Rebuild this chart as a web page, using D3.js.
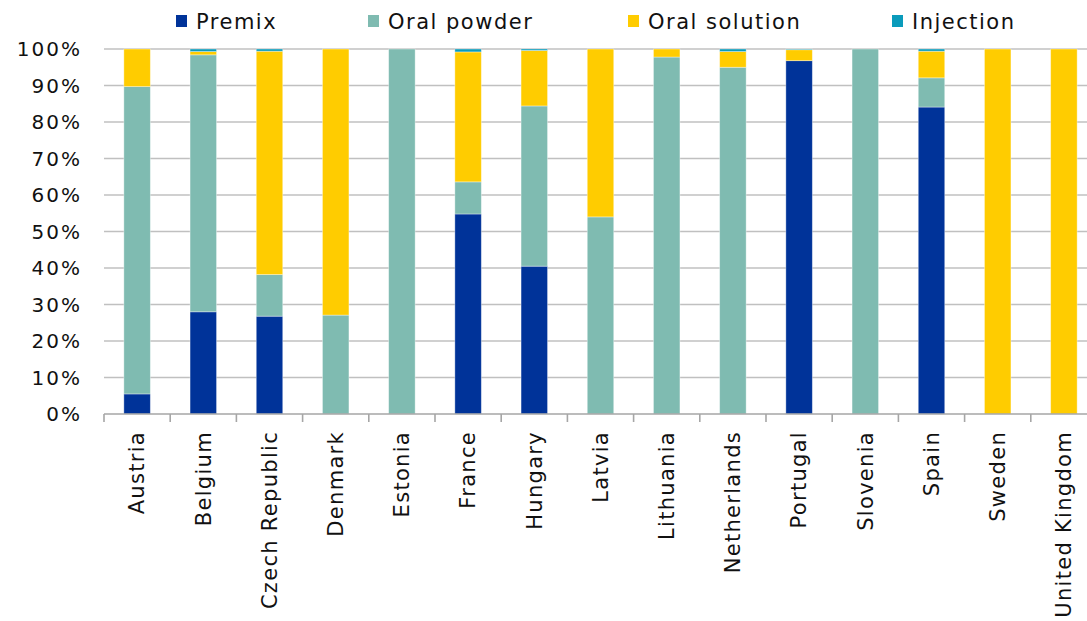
<!DOCTYPE html>
<html>
<head>
<meta charset="utf-8">
<script src="https://cdn.jsdelivr.net/npm/d3@7"></script>
<style>
  html, body { margin: 0; padding: 0; background: #fff; }
  svg { display: block; font-family: "DejaVu Sans", Verdana, sans-serif; }
</style>
</head>
<body>
<svg id="chart" width="1087" height="621"></svg>
<script>
// Share of each pharmaceutical form per country (% of total)
const countries = ["Austria", "Belgium", "Czech Republic", "Denmark", "Estonia", "France", "Hungary",
  "Latvia", "Lithuania", "Netherlands", "Portugal", "Slovenia", "Spain", "Sweden", "United Kingdom"];
const premix      = [5.5, 28.0, 26.8, 0, 0, 54.8, 40.5, 0, 0, 0, 96.8, 0, 84.1, 0, 0];
const oralPowder  = [84.2, 70.4, 11.4, 27.1, 100, 8.8, 43.9, 54.0, 97.8, 95.0, 0, 100, 8.0, 0, 0];
const oralSolution = [10.3, 0.9, 61.2, 72.9, 0, 35.6, 15.2, 46.0, 2.2, 4.3, 3.0, 0, 7.3, 100, 100];
const injection   = [0, 0.7, 0.6, 0, 0, 0.8, 0.4, 0, 0, 0.7, 0.2, 0, 0.6, 0, 0];
const seriesNames = ["Premix", "Oral powder", "Oral solution", "Injection"];
const seriesColors = ["#003399", "#7FBBB1", "#FFCC00", "#0A9BBB"];
const yTicks = [0, 10, 20, 30, 40, 50, 60, 70, 80, 90, 100];

const svg = d3.select("#chart");
const plotLeft = 104, plotRight = 1097, plotTop = 49, plotBottom = 414;

const x = d3.scaleBand().domain(countries).range([plotLeft, plotRight]).paddingInner(0.6).paddingOuter(0.3);
const xb = d3.scaleBand().domain(countries).range([plotLeft, plotRight]);
const y = d3.scaleLinear().domain([0, 100]).range([plotBottom, plotTop]);

// gridlines
svg.append("g").selectAll("line").data(yTicks.filter(d => d > 0)).join("line")
  .attr("x1", plotLeft).attr("x2", plotRight)
  .attr("y1", d => y(d)).attr("y2", d => y(d))
  .attr("stroke", "#C0C0C0").attr("stroke-width", 1.6);

// y tick labels (trailing letter-spacing compensated in x)
const tickSpacing = 2;
svg.append("g").selectAll("text").data(yTicks).join("text")
  .attr("x", 80 + tickSpacing).attr("y", d => y(d))
  .attr("text-anchor", "end").attr("dy", "0.36em")
  .attr("font-size", 20).attr("letter-spacing", tickSpacing).attr("fill", "#111")
  .text(d => d + "%");

// stacked bars
const rows = countries.map((c, i) => ({
  country: c, Premix: premix[i], "Oral powder": oralPowder[i],
  "Oral solution": oralSolution[i], Injection: injection[i]
}));
const stack = d3.stack().keys(seriesNames)(rows);
svg.append("g").selectAll("g").data(stack).join("g")
  .attr("fill", (d, i) => seriesColors[i])
  .selectAll("rect").data(d => d.filter(s => s[1] - s[0] > 0)).join("rect")
  .attr("x", d => x(d.data.country))
  .attr("width", x.bandwidth())
  .attr("y", d => y(d[1]))
  .attr("height", d => y(d[0]) - y(d[1]))
  .attr("stroke", "rgba(255,255,255,0.45)").attr("stroke-width", 0.8);

// x axis line and ticks
const axis = svg.append("g").attr("stroke", "#A6A6A6").attr("stroke-width", 1.6);
axis.append("line").attr("x1", plotLeft).attr("x2", plotRight).attr("y1", plotBottom).attr("y2", plotBottom);
axis.selectAll("line.tick").data(countries.concat([null])).join("line").attr("class", "tick")
  .attr("x1", (d, i) => plotLeft + i * xb.step()).attr("x2", (d, i) => plotLeft + i * xb.step())
  .attr("y1", plotBottom).attr("y2", plotBottom + 8);

// x labels, rotated
svg.append("g").selectAll("text").data(countries).join("text")
  .attr("transform", d => `translate(${xb(d) + xb.bandwidth() / 2},431) rotate(-90)`)
  .attr("text-anchor", "end").attr("dy", "0.35em")
  .attr("font-size", 21).attr("letter-spacing", 1.3).attr("fill", "#111")
  .text(d => d);

// legend
const legendX = [176, 368, 628, 892];
const lg = svg.append("g").selectAll("g").data(seriesNames).join("g")
  .attr("transform", (d, i) => `translate(${legendX[i]},0)`);
lg.append("rect").attr("x", 0).attr("y", 15).attr("width", 11).attr("height", 12)
  .attr("fill", (d, i) => seriesColors[i]);
lg.append("text").attr("x", 20).attr("y", 29)
  .attr("font-size", 21).attr("letter-spacing", 1.5).attr("fill", "#111")
  .text(d => d);
</script>
</body>
</html>
